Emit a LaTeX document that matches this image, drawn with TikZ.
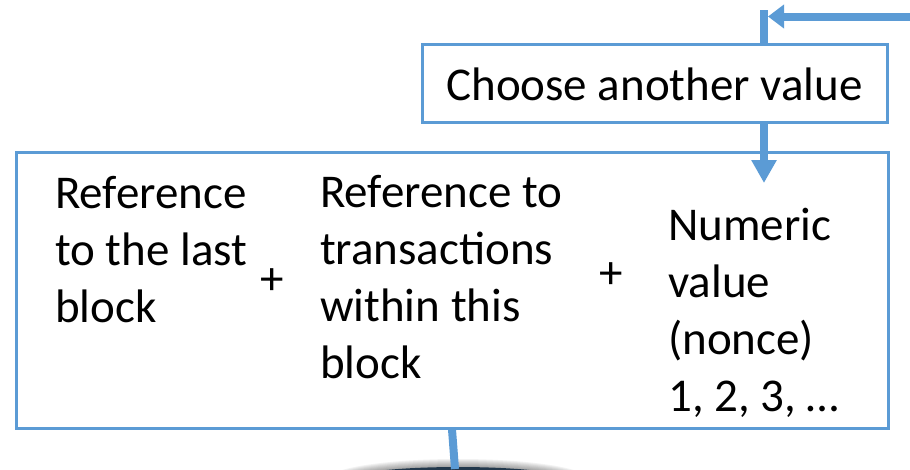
\documentclass[tikz,border=0pt]{standalone}
\usepackage{fontspec}
\setmainfont{Carlito}
\usetikzlibrary{arrows.meta}
\definecolor{boxblue}{HTML}{5B9BD5}
\definecolor{discdark}{HTML}{22384C}
\begin{document}
\begin{tikzpicture}[x=1pt,y=-1pt,
  frame/.style={draw=boxblue, line width=3pt, inner sep=0pt},
  flow/.style={draw=boxblue, line width=8pt},
  txt/.style={font=\fontsize{47}{57}\selectfont, inner sep=0pt, align=left, anchor=base west},
  plus/.style={font=\fontsize{47}{57}\selectfont, inner sep=0pt},
]
\useasboundingbox (0,0) rectangle (910,469);

% dark disc peeking in at the bottom, with a soft shadow
\begin{scope}
  \clip (0,0) rectangle (910,469);
  \foreach \i in {0,...,7}
    \fill[black, opacity=0.05] (458,480) ellipse ({114+\i*2.5} and {14+\i*1.0});
  \fill[discdark] (458,480) ellipse (112 and 13);
\end{scope}

% boxes
\node[frame, minimum width=465pt, minimum height=78pt] (chooseBox) at (654.5,83) {};
\node[txt, anchor=base] (chooseText) at (654.5,100) {Choose another value};
\node[frame, minimum width=872pt, minimum height=276pt] (mainBox) at (452,290) {};

% contents of the block (anchored at the baseline of the last line)
\node[txt] (lastRef) at (55,322) {Reference\\to the last\\block};
\node[plus] (plusA) at (272.5,282) {+};
\node[txt] (txRef) at (320,378) {Reference to\\transactions\\within this\\block};
\node[plus] (plusB) at (611,275.5) {+};
\node[txt] (nonce) at (668,411) {Numeric\\value\\(nonce)\\1, 2, 3, …};

% connectors
\coordinate (loopTop) at (764,10);
\coordinate (loopIn) at (910,16.5);
\coordinate (loopHit) at (768,16.5);
\coordinate (nonceTip) at (764,183);
\coordinate (outEnd) at (455,469);

\draw[flow] (loopTop) -- (loopTop |- chooseBox.north);
\draw[flow, -{Triangle[length=16pt,width=23pt]}] (loopIn) -- (loopHit);
\draw[flow, -{Triangle[length=23pt,width=24pt]}] (chooseBox.south -| nonceTip) -- (nonceTip);
\draw[flow] (mainBox.south -| 452,0) -- (outEnd);
\end{tikzpicture}
\end{document}
